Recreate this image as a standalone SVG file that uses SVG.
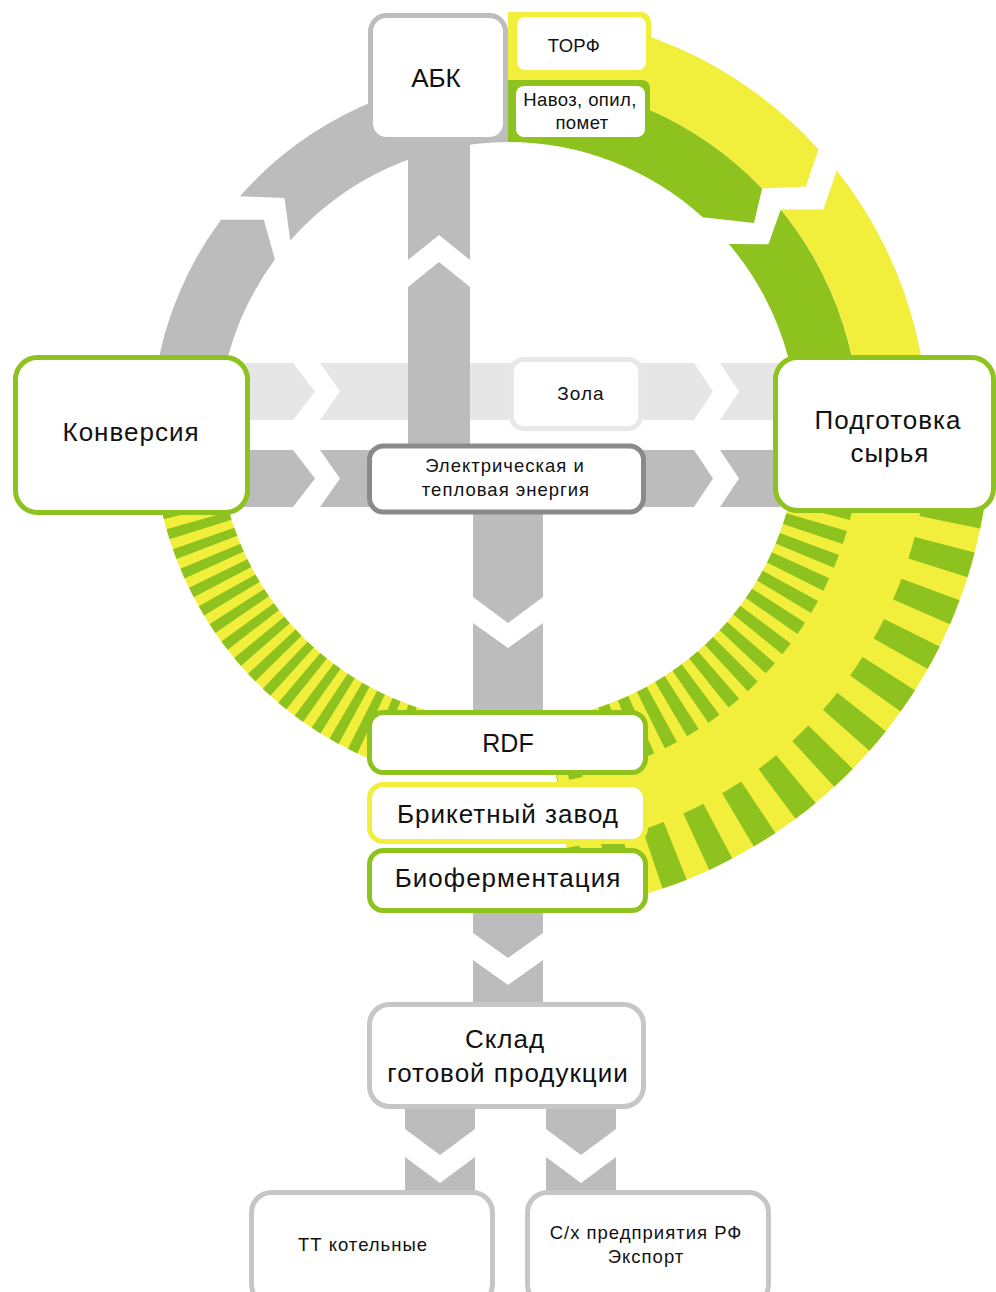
<svg xmlns="http://www.w3.org/2000/svg" width="996" height="1292" viewBox="0 0 996 1292">
<style>
.g{fill:#8dc21f}.y{fill:#f1ee3c}.gr{fill:#bcbcbc}.lg{fill:#e6e6e6}
.box{fill:#fff;stroke-width:5}
.sg{stroke:#8dc21f}.sy{stroke:#f1ee3c}.sgr{stroke:#bdbdbd}.slg{stroke:#e8e8e8}.sdk{stroke:#8a8a8a}.sl{stroke:#c6c6c6}
.t{font-family:"Liberation Sans",Arial,sans-serif;fill:#111;text-anchor:middle}
.big{font-size:26px;letter-spacing:1px}
.sm{font-size:18.5px;letter-spacing:1px}
.ar{fill:none}
</style>
<rect width="996" height="1292" fill="#fff"/>
<g id="connectors">
  <!-- ring: gray part (Конверсия -> АБК) -->
  <path class="gr" d="M152.4,463.1 A357,357 0 0 1 221.0,219.7 L263.8,219.8 L274.9,259.5 A290,290 0 0 0 219.1,457.3 Z"/>
  <path class="gr" d="M239.9,196.3 A357,357 0 0 1 508,75 L508,142 A290,290 0 0 0 290.2,240.5 L284.5,198.1 Z"/>
  <!-- ring: top green/yellow segment -->
  <path class="g" d="M508,80 A352,352 0 0 1 762.1,188.4 L754,223 L702.8,217.2 A290,290 0 0 0 508,142 Z"/>
  <path class="y" d="M508,12 A420,420 0 0 1 818.6,149.3 L805.8,186.5 L762.1,188.4 A352,352 0 0 0 508,80 Z"/>
  <!-- ring: right green/yellow segment -->
  <path class="g" d="M780.8,209.5 A352,352 0 0 1 854.7,493.1 L793.6,482.4 A290,290 0 0 0 728.8,244.0 L768.4,244.2 Z"/>
  <path class="y" d="M836.7,170.5 A420,420 0 0 1 921.6,504.9 L854.7,493.1 A352,352 0 0 0 780.8,209.5 L823.4,209.5 Z"/>
  <!-- ring: bottom-right hatched band -->
  <path class="ar" stroke="#f1ee3c" stroke-width="192" d="M890.2,485.7 A386,386 0 0 1 561.7,814.2"/>
  <path class="ar" stroke="#8dc21f" stroke-width="63" stroke-dasharray="12.5 10.5" d="M826.3,477.3 A321.5,321.5 0 0 1 552.7,750.4"/>
  <path class="ar" stroke="#8dc21f" stroke-width="62" stroke-dasharray="24 23" d="M954.0,498.7 A451,451 0 0 1 570.8,878.6"/>
  <!-- ring: bottom-left hatched band -->
  <path class="ar" stroke="#f1ee3c" stroke-width="65" d="M424.5,743.5 A322.5,322.5 0 0 1 188.6,476.9"/>
  <path class="ar" stroke="#8dc21f" stroke-width="65" stroke-dasharray="9.5 9.5" d="M424.5,743.5 A322.5,322.5 0 0 1 188.6,476.9"/>
  <!-- horizontal bar: Зола -->
  <path class="lg" d="M240,363 L293,363 L315,391.5 L293,420 L240,420 Z"/>
  <path class="lg" d="M320,363 L694,363 L713,391.5 L694,420 L320,420 L340,391.5 Z"/>
  <path class="lg" d="M720,363 L780,363 L780,420 L720,420 L739,391.5 Z"/>
  <!-- horizontal bar: energy -->
  <path class="gr" d="M240,450 L293,450 L315,478.5 L293,507 L240,507 Z"/>
  <path class="gr" d="M320,450 L380,450 L380,507 L320,507 L340,478.5 Z"/>
  <path class="gr" d="M630,450 L694,450 L713,478.5 L694,507 L630,507 Z"/>
  <path class="gr" d="M720,450 L780,450 L780,507 L720,507 L739,478.5 Z"/>
  <!-- vertical stem to АБК -->
  <path class="gr" d="M408,138 L470,138 L470,260 L439,235 L408,260 Z"/>
  <path class="gr" d="M408,287 L439,262 L470,287 L470,452 L408,452 Z"/>
  <!-- vertical stem to RDF -->
  <path class="gr" d="M473,508 L543,508 L543,597 L508,623 L473,597 Z"/>
  <path class="gr" d="M473,623 L508,648 L543,623 L543,716 L473,716 Z"/>
  <!-- stem to Склад -->
  <path class="gr" d="M473,908 L543,908 L543,933 L508,958 L473,933 Z"/>
  <path class="gr" d="M473,960 L508,985 L543,960 L543,1006 L473,1006 Z"/>
  <!-- stems to bottom boxes -->
  <path class="gr" d="M405,1104 L475,1104 L475,1129 L440,1155 L405,1129 Z"/>
  <path class="gr" d="M405,1157 L440,1183 L475,1157 L475,1195 L405,1195 Z"/>
  <path class="gr" d="M546,1104 L616,1104 L616,1129 L581,1155 L546,1129 Z"/>
  <path class="gr" d="M546,1157 L581,1183 L616,1157 L616,1195 L546,1195 Z"/>
</g>
<g id="abk">
  <rect class="box sgr" x="370.5" y="15.5" width="135" height="124" rx="16"/>
  <text class="t" x="436" y="87" font-size="26">АБК</text>
</g>
<g id="torf">
  <rect class="y" x="508" y="12" width="143" height="75" rx="10"/>
  <rect fill="#fff" x="517" y="17" width="129" height="53" rx="8"/>
  <text class="t" x="574" y="52" font-size="18.5" letter-spacing="0.3">ТОРФ</text>
</g>
<g id="navoz">
  <rect class="g" x="508" y="80" width="142" height="62" rx="8"/>
  <rect class="g" x="508" y="80" width="20" height="62"/>
  <rect fill="#fff" x="516" y="86" width="129" height="51" rx="8"/>
  <text class="t" x="580" y="106" font-size="18.5" letter-spacing="0.4">Навоз, опил,</text>
  <text class="t" x="582" y="129" font-size="18.5" letter-spacing="0.4">помет</text>
</g>
<g id="konversiya">
  <rect class="box sg" x="15.5" y="357.5" width="232" height="155" rx="22"/>
  <text class="t big" x="131" y="441">Конверсия</text>
</g>
<g id="podgotovka">
  <rect class="box sg" x="775.5" y="357.5" width="218" height="153" rx="22"/>
  <text class="t big" x="888" y="429">Подготовка</text>
  <text class="t big" x="890" y="462">сырья</text>
</g>
<g id="zola">
  <rect class="box slg" x="511.5" y="359.5" width="129" height="69" rx="12"/>
  <text class="t" x="581" y="400" font-size="19" letter-spacing="1">Зола</text>
</g>
<g id="energiya">
  <rect class="box sdk" x="369.5" y="446" width="274" height="66" rx="14" stroke-width="4.5"/>
  <text class="t sm" x="505" y="472">Электрическая и</text>
  <text class="t sm" x="506" y="496">тепловая энергия</text>
</g>
<g id="rdf">
  <rect class="box sg" x="369.5" y="712.5" width="276" height="60" rx="14"/>
  <text class="t" x="508" y="752" font-size="25">RDF</text>
</g>
<g id="briket">
  <rect class="box sy" x="369.5" y="784.5" width="276" height="57" rx="14"/>
  <text class="t big" x="508" y="823">Брикетный завод</text>
</g>
<g id="bioferm">
  <rect class="box sg" x="369.5" y="850.5" width="276" height="60" rx="14"/>
  <text class="t big" x="508" y="887">Биоферментация</text>
</g>
<g id="sklad">
  <rect class="box sl" x="369.5" y="1004.5" width="274" height="102" rx="20"/>
  <text class="t big" x="505" y="1048">Склад</text>
  <text class="t big" x="508" y="1082">готовой продукции</text>
</g>
<g id="tt">
  <rect class="box sl" x="251.5" y="1192.5" width="241" height="112" rx="20"/>
  <text class="t sm" x="363" y="1251">ТТ котельные</text>
</g>
<g id="sh">
  <rect class="box sl" x="527.5" y="1192.5" width="241" height="112" rx="20"/>
  <text class="t sm" x="646" y="1239">С/х предприятия РФ</text>
  <text class="t sm" x="646" y="1263">Экспорт</text>
</g>
</svg>
